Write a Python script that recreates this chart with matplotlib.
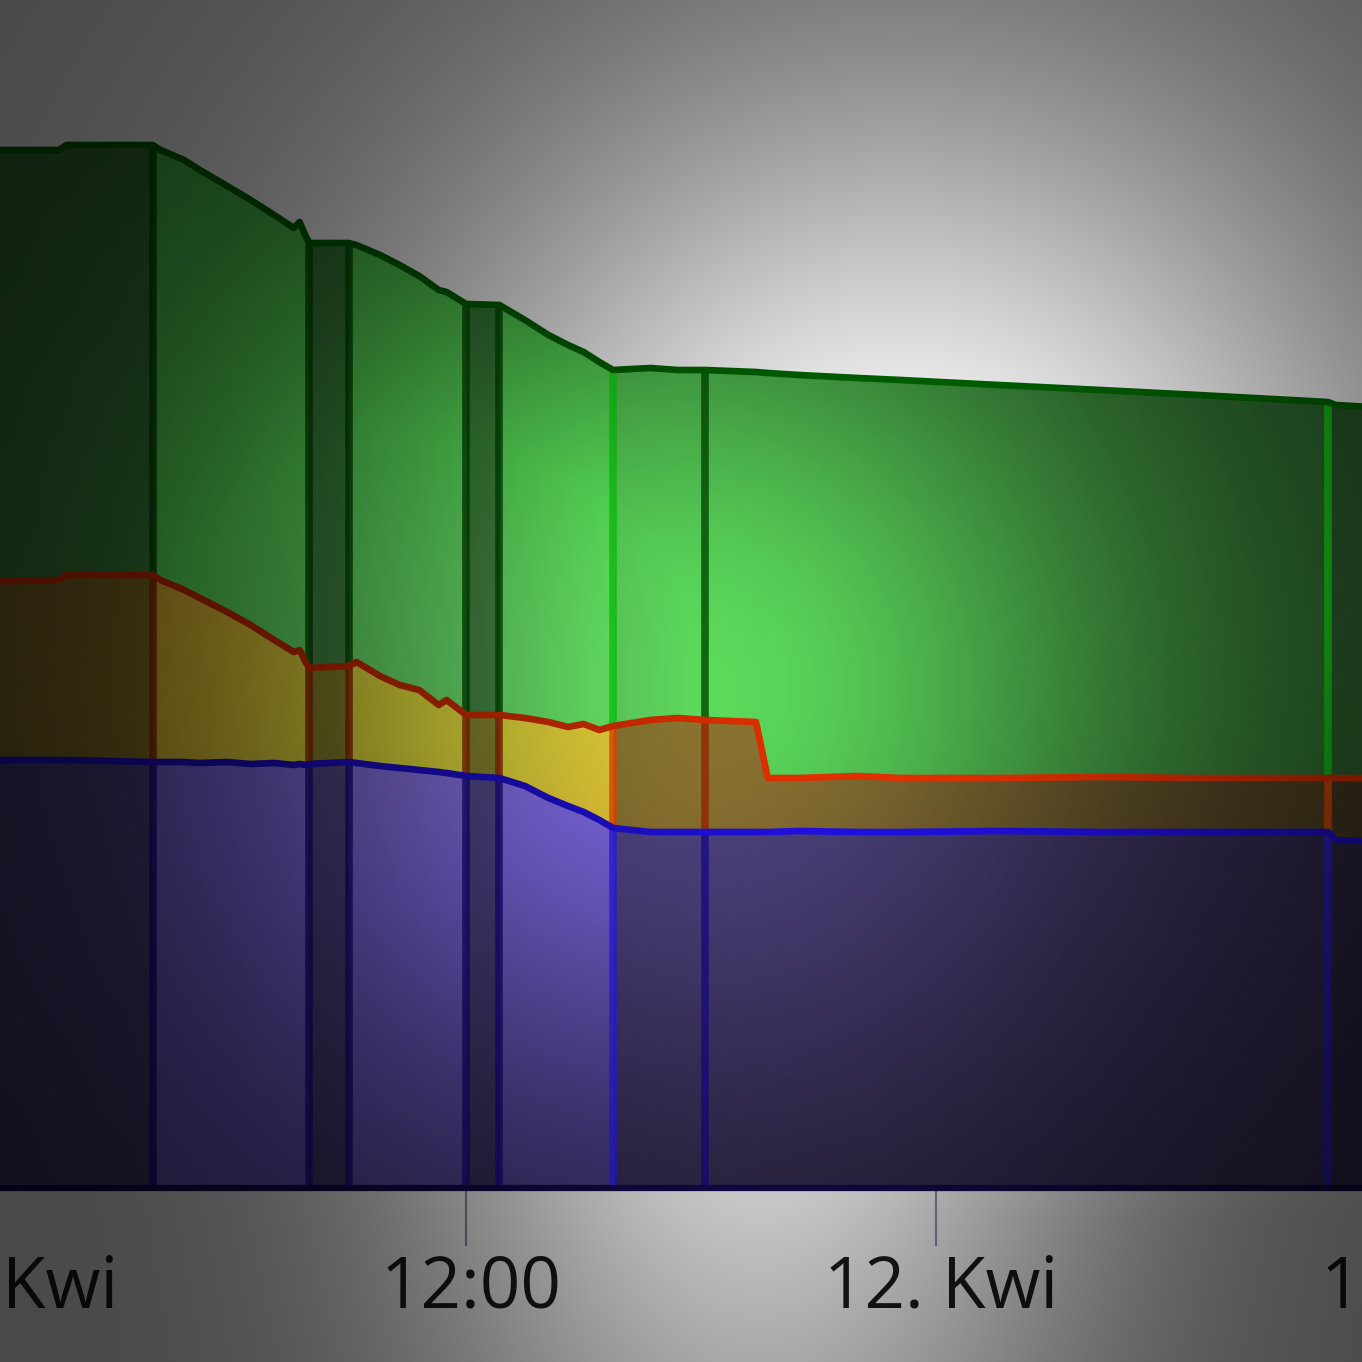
import numpy as np
import matplotlib
matplotlib.use("Agg")
import matplotlib.pyplot as plt
from matplotlib import transforms

# hours since 11 Kwi 00:00
times = [-0.5, 1.6, 1.8, 4.0, 4.2, 4.8, 5.2, 5.9, 6.5, 7.1, 7.6, 7.75, 7.9, 8.0,
         9.0, 9.2, 9.8, 10.3, 10.8, 11.3, 11.5, 12.0, 12.85, 13.5, 14.1, 14.6, 15.0,
         15.4, 15.75, 16.7, 17.4, 18.1, 19.4, 19.7, 20.5, 22.0, 23.1, 25.6, 28.2,
         30.7, 34.0, 34.2, 35.5]
blue = [42.8, 42.8, 42.8, 42.6, 42.6, 42.6, 42.5, 42.6, 42.4, 42.5, 42.3, 42.4, 42.3, 42.4,
        42.6, 42.5, 42.2, 42.0, 41.8, 41.6, 41.5, 41.2, 41.0, 40.2, 39.0, 38.2, 37.6,
        36.8, 36.0, 35.6, 35.6, 35.6, 35.6, 35.6, 35.7, 35.6, 35.6, 35.7, 35.6,
        35.6, 35.6, 34.8, 34.6]
orange = [17.8, 18.0, 18.5, 18.7, 18.2, 17.2, 16.5, 15.0, 13.9, 12.3, 11.3, 11.4, 10.3, 9.6,
          9.6, 10.1, 9.0, 8.3, 8.0, 6.7, 7.3, 6.1, 6.3, 6.8, 7.6, 7.9, 8.8,
          9.0, 10.2, 11.2, 11.4, 11.2, 11.0, 5.4, 5.3, 5.6, 5.4, 5.3, 5.5,
          5.4, 5.4, 6.2, 6.4]
green = [43.2, 43.0, 43.0, 43.0, 43.0, 43.0, 42.8, 42.6, 42.5, 42.5, 42.4, 42.8, 42.6, 42.5,
         42.3, 41.7, 42.1, 42.0, 41.4, 41.5, 40.8, 41.1, 41.0, 39.8, 38.7, 38.2, 37.2,
         36.8, 35.6, 35.2, 34.8, 35.0, 35.0, 40.5, 40.3, 39.8, 39.8, 39.3, 38.7,
         38.3, 37.6, 37.3, 37.0]

# gaps in the data (hours); the first three and the last are drawn darker
gaps = [(-0.5, 4.0), (8.0, 9.0), (12.0, 12.85), (15.75, 18.1), (34.0, 35.5)]
dark_alpha = [0.45, 0.45, 0.45, 0.0, 0.2]
dim_span = (15.75, 35.5)

tick_pos = [0, 12, 24, 36]
tick_labels = ["11. Kwi", "12:00", "12. Kwi", "12:00"]

W = H = 1362
XMIN, XMAX = 0.10, 34.87
YMAX = 118.8
AX_BOTTOM = 174 / H

fill_cols = {"blue": (60, 51, 109), "orange": (120, 98, 27), "green": (48, 120, 48)}
line_cols = {"blue": "#2010e0", "orange": "#e03000", "green": "#006600"}
edge_bright = {"blue": "#3020ff", "orange": "#ff5000", "green": "#10e010"}
edge_dark = {"blue": "#1a0c90", "orange": "#a02800", "green": "#005000"}


def light(px, py):
    # spot light on the series, peak in the middle
    d2 = (px - 680.0) ** 2 + (py - 690.0) ** 2
    return 0.45 + 1.55 * np.exp(-d2 / 430.0 ** 2)


def shade(px, py):
    # overall vignette, dark corners
    f = np.clip((py - 620.0) / 600.0, 0, 1)
    cx = 900.0 - 140.0 * f
    rx = 520.0 - 170.0 * f
    ry = np.where(py < 620, 560.0, 900.0)
    q = ((px - cx) / rx) ** 2 + ((py - 620.0) / ry) ** 2
    return np.minimum(0.28 + 0.75 * np.exp(-q), 1.0)


t = np.array(times)
layers = [("blue", np.array(blue)), ("orange", np.array(orange)), ("green", np.array(green))]

fig = plt.figure(figsize=(W / 100, H / 100), dpi=100, facecolor="white")
ax = fig.add_axes([0, AX_BOTTOM, 1, 1 - AX_BOTTOM])
ax.set_xlim(XMIN, XMAX)
ax.set_ylim(0, YMAX)
ax.set_facecolor("none")
for s in ax.spines.values():
    s.set_visible(False)
ax.set_yticks([])
ax.set_xticks([12, 24])
ax.tick_params(axis="x", direction="out", length=42, width=1.5, color="#8898b0",
               labelbottom=False)

gx = np.linspace(0, W, 340)
gy = np.linspace(0, 1188, 300)
GX, GY = np.meshgrid(gx, gy)
boost = light(GX, GY) / shade(GX, GY)

base = np.zeros_like(t)
tops = {}
for name, vals in layers:
    top = base + vals
    poly = ax.fill_between(t, base, top, color="none", lw=0)
    rgb = np.clip(np.array(fill_cols[name])[None, None, :] / 255.0 * boost[..., None], 0, 1)
    im = ax.imshow(rgb, extent=(XMIN, XMAX, 0, YMAX), origin="upper", aspect="auto",
                   interpolation="bilinear", zorder=1)
    im.set_clip_path(poly.get_paths()[0], transform=ax.transData)
    tops[name] = (base.copy(), top)
    base = top
total = base
mid = tops["orange"][1]

# duller colours after the afternoon gap
m = (t >= dim_span[0]) & (t <= dim_span[1])
ax.fill_between(t, 0, mid, where=m, color="#2a2630", alpha=0.5, lw=0, zorder=2)
ax.fill_between(t, mid, total, where=m, color="#507050", alpha=0.15, lw=0, zorder=2)

for (a, b), al in zip(gaps, dark_alpha):
    if al > 0:
        m = (t >= a) & (t <= b)
        ax.fill_between(t, 0, total, where=m, color="#1a1a1a", alpha=al, lw=0, zorder=2)

# gap edges: bright where a light gap starts, dark elsewhere
bright = [a for (a, b), al in zip(gaps, dark_alpha) if al < 0.3 and XMIN < a < XMAX]
dull = [e for g in gaps for e in g if XMIN < e < XMAX and e not in bright]
for name, (lo, hi) in tops.items():
    for xs, col in ((dull, edge_dark[name]), (bright, edge_bright[name])):
        ax.vlines(xs, np.interp(xs, t, lo), np.interp(xs, t, hi), color=col,
                  lw=5.5, alpha=0.8, zorder=3)

for name, (lo, hi) in tops.items():
    ax.plot(t, hi, color=line_cols[name], lw=4.8, zorder=4, solid_joinstyle="round")
ax.axhline(0, color="#140a50", lw=4.5, zorder=4, clip_on=False)

# tick labels, incl. the ones cut by the figure edges
tr = transforms.offset_copy(transforms.blended_transform_factory(ax.transData, fig.transFigure),
                            fig=fig, x=3.6, y=0, units="points")
for pos, lab in zip(tick_pos, tick_labels):
    ax.text(pos, 54 / H, lab, transform=tr, ha="center", va="baseline",
            fontsize=51, family=["Open Sans", "DejaVu Sans"], color="#1c1c1c", clip_on=False)

# vignette over everything
vx = np.linspace(0, W, 340)
vy = np.linspace(0, H, 340)
VX, VY = np.meshgrid(vx, vy)
dark = np.zeros((340, 340, 4))
dark[..., 3] = 1.0 - shade(VX, VY)
ov = fig.add_axes([0, 0, 1, 1], zorder=10)
ov.imshow(dark, extent=(0, W, H, 0), aspect="auto", interpolation="bilinear")
ov.set_xlim(0, W)
ov.set_ylim(H, 0)
ov.axis("off")

fig.savefig("out.png", dpi=100, facecolor="white")
